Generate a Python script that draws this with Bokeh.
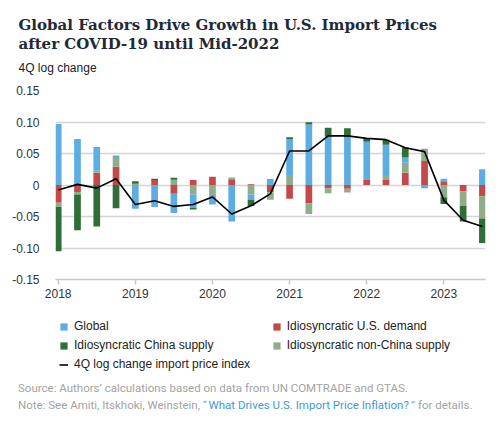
import numpy as np
from bokeh.plotting import figure
from bokeh.layouts import column
from bokeh.models import Range1d, FixedTicker, CustomJSTickFormatter, Legend, LegendItem
from bokeh.core.properties import value
from bokeh.embed import file_html
from bokeh.resources import INLINE

# ---------------- data ----------------
quarters = [2018 + 0.25 * i for i in range(23)]  # 2018Q1 .. 2023Q3
global_f = [0.097, 0.073, 0.038, 0.004, -0.0375, -0.035, -0.0305, -0.021, -0.015, -0.058,
            -0.009, 0.0095, 0.057, 0.096, 0.077, 0.076, 0.0605, 0.048, 0.008, -0.005,
            0.004, 0.0, 0.025]
us_demand = [-0.028, -0.011, 0.0195, 0.029, 0.0, 0.008, -0.014, 0.008, 0.013, 0.009,
             0.001, -0.0115, -0.022, -0.029, -0.005, -0.006, 0.008, 0.008, 0.0195, 0.038,
             0.006, -0.0105, -0.018]
china_supply = [-0.070, -0.057, -0.066, -0.037, 0.004, 0.002, 0.003, -0.003, 0.0, 0.0,
                -0.0095, 0.0, 0.003, 0.0035, 0.0137, 0.014, 0.005, 0.008, 0.016, 0.0,
                -0.0105, -0.0247, -0.039]
nonchina_supply = [-0.007, -0.004, 0.003, 0.014, 0.002, 0.0, 0.0085, -0.015, -0.016, 0.003,
                   -0.015, -0.012, 0.0158, -0.017, -0.008, -0.006, 0.0, 0.008, 0.016, 0.0195,
                   -0.0195, -0.0226, -0.035]
price_index = [-0.008, 0.001, -0.005, 0.010, -0.031, -0.025, -0.034, -0.031, -0.019, -0.046,
               -0.033, -0.014, 0.054, 0.054, 0.078, 0.078, 0.074, 0.072, 0.059, 0.053,
               -0.024, -0.056, -0.066]
year_ticks = [2018, 2019, 2020, 2021, 2022, 2023]
y_ticks = [-0.15, -0.10, -0.05, 0.0, 0.05, 0.10, 0.15]

title_lines = ["Global Factors Drive Growth in U.S. Import Prices",
               "after COVID-19 until Mid-2022"]
y_axis_title = "4Q log change"
line_name = "4Q log change import price index"
source_text = "Source: Authors’ calculations based on data from UN COMTRADE and GTAS."
note_parts = ["Note: See Amiti, Itskhoki, Weinstein, “",
              "What Drives U.S. Import Price Inflation?",
              "” for details."]

series_names = ["Global", "Idiosyncratic U.S. demand", "Idiosyncratic China supply",
                "Idiosyncratic non-China supply"]
colors = {"Global": "#5dade2", "Idiosyncratic U.S. demand": "#c4494b",
          "Idiosyncratic China supply": "#2f6e38", "Idiosyncratic non-China supply": "#90ad8a"}
values = {"Global": global_f, "Idiosyncratic U.S. demand": us_demand,
          "Idiosyncratic China supply": china_supply,
          "Idiosyncratic non-China supply": nonchina_supply}
stack_order = ["Idiosyncratic U.S. demand", "Idiosyncratic non-China supply", "Global",
               "Idiosyncratic China supply"]

W = 492
FONT = "Liberation Sans"
TITLE_FONT = "DejaVu Serif"
SRC_FONT = "Roboto"
GRAY = "#a3a3a3"
BLUE = "#3e9bd3"
NAN = float("nan")


def blank(height, y_top):
    f = figure(width=W, height=height, output_backend="svg", toolbar_location=None,
               x_range=Range1d(0, W), y_range=Range1d(y_top + height, y_top),
               x_axis_type=None, y_axis_type=None, min_border=0, frame_align=False)
    f.outline_line_color = None
    f.xgrid.visible = False
    f.ygrid.visible = False
    return f


# ---------------- header ----------------
HEAD_H = 80
head = blank(HEAD_H, 0)
head.text(x=[18, 18], y=[24.5, 43], text=title_lines, text_font=value(TITLE_FONT),
          text_font_style="bold", text_font_size="15px", text_color="#1d2a38",
          text_baseline="alphabetic")
head.text(x=[18], y=[67], text=[y_axis_title], text_font=value(FONT),
          text_font_size="12px", text_color="#222222", text_baseline="alphabetic")

# ---------------- main chart ----------------
MAIN_H = 230
p = figure(width=W, height=MAIN_H, output_backend="svg", toolbar_location=None,
           x_range=Range1d(2017.965, 2023.54), y_range=Range1d(-0.15, 0.15),
           min_border_left=55, min_border_right=W - 485, min_border_top=10,
           min_border_bottom=31, frame_align=False)
p.outline_line_color = None
p.xgrid.visible = False
p.ygrid.ticker = FixedTicker(ticks=y_ticks)
p.ygrid.grid_line_color = "#d4d4d4"
p.ygrid.grid_line_width = 1.5

p.yaxis.ticker = FixedTicker(ticks=y_ticks)
p.yaxis.formatter = CustomJSTickFormatter(code="return tick == 0 ? '0' : tick.toFixed(2);")
p.yaxis.axis_line_color = None
p.yaxis.major_tick_line_color = None
p.yaxis.minor_tick_line_color = None
p.yaxis.major_label_standoff = 10
p.yaxis.major_label_text_font = FONT
p.yaxis.major_label_text_font_size = "12px"
p.yaxis.major_label_text_color = "#333333"

p.xaxis.ticker = FixedTicker(ticks=year_ticks)
p.xaxis.formatter = CustomJSTickFormatter(code="return tick.toFixed(0);")
p.xaxis.axis_line_color = "#c8c8c8"
p.xaxis.axis_line_width = 1.5
p.xaxis.major_tick_line_color = "#c8c8c8"
p.xaxis.major_tick_line_width = 1.5
p.xaxis.major_tick_out = 5
p.xaxis.major_tick_in = 0
p.xaxis.minor_tick_line_color = None
p.xaxis.major_label_standoff = 4
p.xaxis.major_label_text_font = FONT
p.xaxis.major_label_text_font_size = "12px"
p.xaxis.major_label_text_color = "#333333"

# stacked bars: positives stack upward, negatives downward, in stack_order
pos_base = np.zeros(len(quarters))
neg_base = np.zeros(len(quarters))
for name in stack_order:
    v = np.array(values[name], dtype=float)
    bottom = np.where(v >= 0, pos_base, neg_base + v)
    top = np.where(v >= 0, pos_base + v, neg_base)
    pos_base = pos_base + np.where(v >= 0, v, 0)
    neg_base = neg_base + np.where(v < 0, v, 0)
    p.vbar(x=quarters, width=0.087, bottom=bottom, top=top,
           fill_color=colors[name], line_color=None)

p.line(quarters, price_index, line_color="black", line_width=1.6)

# ---------------- footer: legend + source ----------------
FOOT_TOP = HEAD_H + MAIN_H
FOOT_H = 112
foot = blank(FOOT_H, FOOT_TOP)
swatch = {}
for name in series_names:  # legend proxies (NaN data: nothing is drawn in the plot)
    swatch[name] = foot.vbar(x=[NAN], top=[NAN], width=1, fill_color=colors[name],
                             line_color=None)
swatch[line_name] = foot.line(x=[NAN, NAN], y=[NAN, NAN], line_color="black", line_width=1.6)

ITEM_H, GAP = 14, 5


def make_legend(names, x_page, first_center):
    n = len(names)
    h = n * ITEM_H + (n - 1) * GAP
    top_page = first_center - ITEM_H / 2
    lg = Legend(items=[LegendItem(label=nm, renderers=[swatch[nm]]) for nm in names],
                location=(x_page, FOOT_TOP + FOOT_H - (top_page + h)),
                glyph_width=9, glyph_height=9, label_height=9, label_standoff=6,
                spacing=GAP, padding=0, margin=0, border_line_color=None,
                background_fill_alpha=0, label_text_font=FONT,
                label_text_font_size="12px", label_text_color="#222222")
    foot.add_layout(lg, "center")


make_legend(["Global", "Idiosyncratic China supply", line_name], 59, 326)
make_legend(["Idiosyncratic U.S. demand", "Idiosyncratic non-China supply"], 271.7, 326)

foot.text(x=[17.5, 17.5, 410.5], y=[387.5, 404, 404],
          text=[source_text, note_parts[0], note_parts[2]], text_font=value(SRC_FONT),
          text_font_size="11.5px", text_color=GRAY, text_baseline="alphabetic")
foot.text(x=[208], y=[404], text=[note_parts[1]], text_font=value(SRC_FONT),
          text_font_size="11.5px", text_color=BLUE, text_baseline="alphabetic")

layout = column(head, p, foot, spacing=0)
open("out.html", "w").write(file_html(layout, INLINE))
